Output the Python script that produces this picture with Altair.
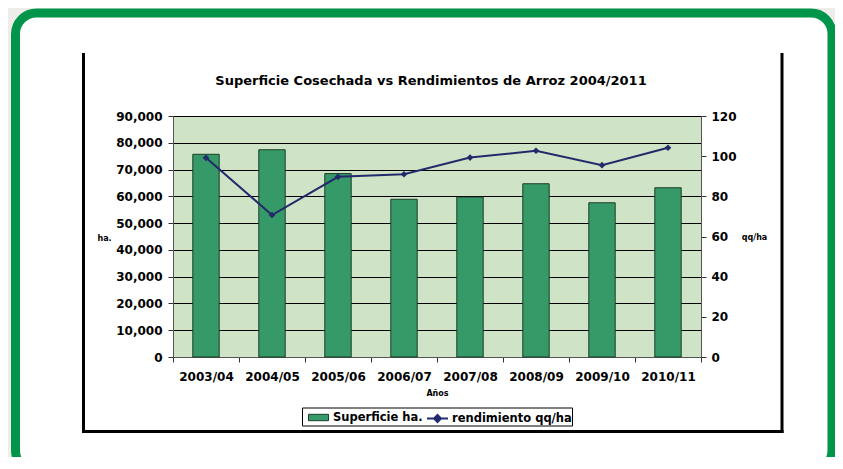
import altair as alt
import pandas as pd

years = ["2003/04", "2004/05", "2005/06", "2006/07", "2007/08", "2008/09", "2009/10", "2010/11"]
superficie = [75700, 77400, 68500, 58900, 59700, 64700, 57600, 63200]
rendimiento = [99.2, 70.7, 89.7, 91.0, 99.3, 102.7, 95.5, 104.2]

bar_name = "Superficie ha."
line_name = "rendimiento qq/ha"
title_text = "Superficie Cosechada vs Rendimientos de Arroz 2004/2011"

df = pd.DataFrame({
    "year": years,
    "sup": superficie,
    "rend": rendimiento,
    "sname": [bar_name] * len(years),
    "lname": [line_name] * len(years),
})
one = pd.DataFrame({"t": [title_text]})

FONT = "DejaVu Sans"
GREEN_BAR = "#359a67"
NAVY = "#232a6c"
W, H = 528, 241

x_enc = alt.X("year:N", sort=years, title="Años",
              scale=alt.Scale(paddingInner=0, paddingOuter=0),
              axis=alt.Axis(labelAngle=0, tickBand="extent", labelFont=FONT, labelFontSize=12,
                            labelFontWeight="bold", labelColor="black", labelPadding=9,
                            tickSize=5, tickColor="#333333", domainColor="#555555",
                            titleFont=FONT, titleFontSize=8, titleFontWeight="bold",
                            titleColor="black", titlePadding=7))

bars = alt.Chart(df).mark_bar(width=alt.RelativeBandSize(0.4), stroke="#1d3d2a", strokeWidth=1).encode(
    x=x_enc,
    y=alt.Y("sup:Q", scale=alt.Scale(domain=[0, 90000], nice=False),
            axis=alt.Axis(values=list(range(0, 90001, 10000)), format=",.0f", orient="left",
                          labelFont=FONT, labelFontSize=12, labelFontWeight="bold", labelColor="black",
                          labelPadding=6, tickSize=5, tickColor="#333333", domainColor="#555555",
                          grid=True, gridColor="black", gridWidth=1, gridOpacity=1,
                          title="ha.", titleAngle=0, titleX=-69, titleY=122, titleAlign="center",
                          titleBaseline="middle", titleFont=FONT, titleFontSize=8,
                          titleFontWeight="bold", titleColor="black")),
    fill=alt.Fill("sname:N", scale=alt.Scale(domain=[bar_name], range=[GREEN_BAR]),
                  legend=alt.Legend(orient="none", legendX=135, legendY=291, title=None, padding=0,
                                    symbolType="M-1,-0.32H1V0.32H-1Z", symbolSize=400,
                                    symbolStrokeColor="#1d3d2a", symbolStrokeWidth=1,
                                    labelFont=FONT, labelFontSize=11.5, labelFontWeight="bold",
                                    labelColor="black", labelOffset=4)),
)

y_right = alt.Y("rend:Q", scale=alt.Scale(domain=[0, 120], nice=False),
                axis=alt.Axis(values=list(range(0, 121, 20)), orient="right",
                              labelFont=FONT, labelFontSize=12, labelFontWeight="bold", labelColor="black",
                              labelPadding=5, tickSize=5, tickColor="#333333", domainColor="#555555",
                              grid=False, title="qq/ha", titleAngle=0, titleX=53, titleY=121,
                              titleAlign="center", titleBaseline="middle", titleFont=FONT,
                              titleFontSize=8, titleFontWeight="bold", titleColor="black"))

line = alt.Chart(df).mark_line(strokeWidth=2).encode(
    x=alt.X("year:N", sort=years),
    y=y_right,
    stroke=alt.Stroke("lname:N", scale=alt.Scale(domain=[line_name], range=[NAVY]),
                      legend=alt.Legend(orient="none", legendX=253, legendY=291, title=None, padding=0,
                                        symbolType="M-1,0H1M-0.33,0L0,-0.33L0.33,0L0,0.33Z",
                                        symbolSize=441, symbolStrokeWidth=2, symbolFillColor=NAVY,
                                        labelFont=FONT, labelFontSize=11.5, labelFontWeight="bold",
                                        labelColor="black", labelOffset=3)),
)
points = alt.Chart(df).mark_point(shape="diamond", filled=True, size=45, color=NAVY, opacity=1).encode(
    x=alt.X("year:N", sort=years),
    y=alt.Y("rend:Q", scale=alt.Scale(domain=[0, 120], nice=False), axis=None),
)

# decorations: outer grey, green rounded frame, black frame, legend box, title
grey = alt.Chart(one).mark_rect(fill=None, stroke="#efedea", strokeWidth=40, cornerRadius=45).encode(
    x=alt.value(-182), x2=alt.value(683.5), y=alt.value(-127.5), y2=alt.value(380))
green = alt.Chart(one).mark_rect(fill=None, stroke="#00954a", strokeWidth=9, cornerRadius=21).encode(
    x=alt.value(-157.5), x2=alt.value(659), y=alt.value(-103), y2=alt.value(355.5))
r_left = alt.Chart(one).mark_rule(color="black", strokeWidth=3).encode(
    x=alt.value(-89.5), y=alt.value(-63), y2=alt.value(317))
r_right = alt.Chart(one).mark_rule(color="black", strokeWidth=3).encode(
    x=alt.value(609), y=alt.value(-63), y2=alt.value(317))
r_bottom = alt.Chart(one).mark_rule(color="black", strokeWidth=3).encode(
    x=alt.value(-91), x2=alt.value(610.5), y=alt.value(315.5))
legbox = alt.Chart(one).mark_rect(fill="white", stroke="black", strokeWidth=1).encode(
    x=alt.value(129.5), x2=alt.value(399.5), y=alt.value(292), y2=alt.value(310))
title = alt.Chart(one).mark_text(font=FONT, fontSize=13, fontWeight="bold", color="black",
                                 align="center", baseline="middle").encode(
    text="t:N", x=alt.value(258), y=alt.value(-35))

left_layer = alt.layer(grey, green, r_left, r_right, r_bottom, legbox, title, bars)
chart = alt.layer(left_layer, line, points).resolve_scale(
    y="independent", fill="independent", stroke="independent"
).properties(
    width=W, height=H,
    padding={"left": 165, "top": 108, "right": 134, "bottom": 100},
    autosize="none",
    background="white",
).configure_view(fill="#cfe4c6", stroke="#808080", strokeWidth=1)

chart.save("out.html", embed_options={"renderer": "svg", "actions": False})
